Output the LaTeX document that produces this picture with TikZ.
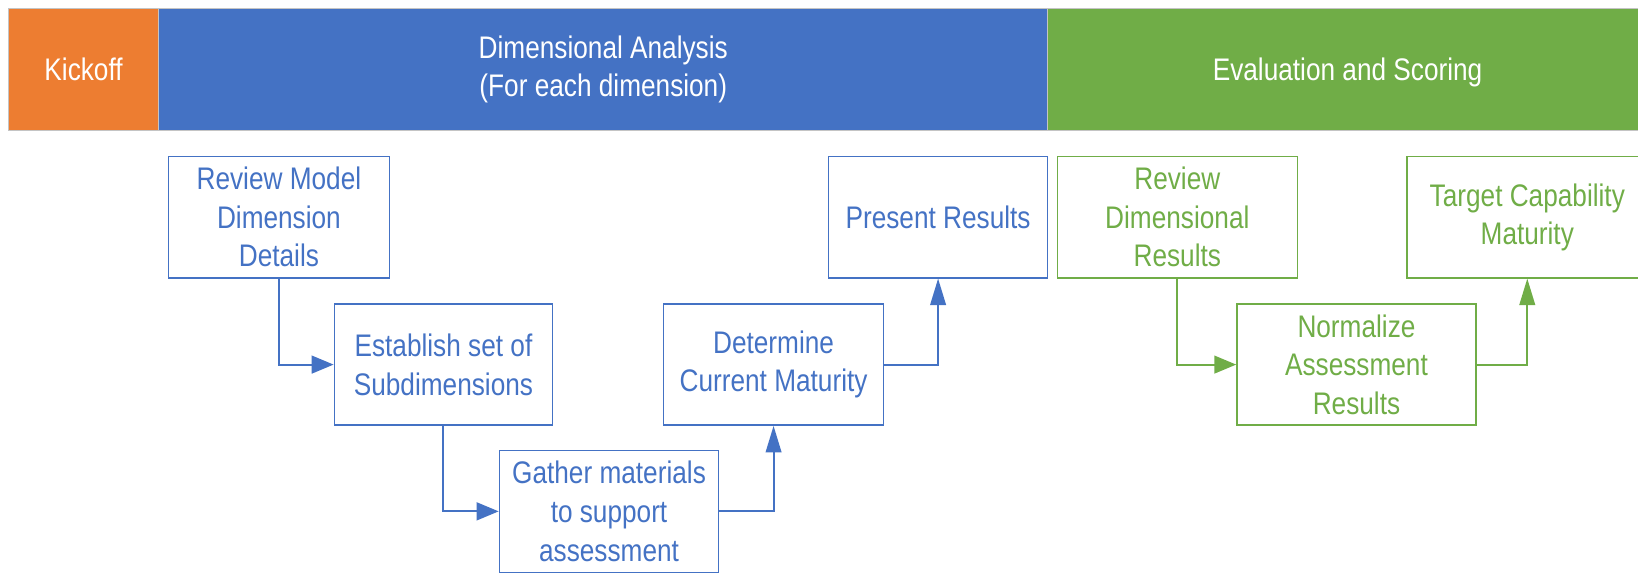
\documentclass[tikz,border=0pt]{standalone}
\usepackage{fontspec}
\setmainfont{Liberation Sans}[FakeStretch=0.84]
\usetikzlibrary{arrows.meta,positioning}
\definecolor{kickorange}{HTML}{ED7D31}
\definecolor{dimblue}{HTML}{4472C4}
\definecolor{evalgreen}{HTML}{70AD47}
\definecolor{hdrgray}{HTML}{C4C4C4}
\tikzstyle{phase} = [rectangle, draw=hdrgray, line width=0.5pt, text=white, align=center, inner sep=0pt, minimum height=2.34cm]
\tikzstyle{taskbox} = [rectangle, line width=0.75pt, align=center, inner sep=0pt, minimum height=2.32cm]
\tikzstyle{bluebox} = [taskbox, draw=dimblue, text=dimblue]
\tikzstyle{greenbox} = [taskbox, draw=evalgreen, text=evalgreen]
\tikzstyle{arrow} = [line width=1.1pt, -{Triangle[length=0.42cm,width=0.34cm]}]
\tikzstyle{uparrow} = [line width=1.1pt, -{Triangle[length=0.51cm,width=0.30cm]}]

\begin{document}
\begin{tikzpicture}[x=0.02cm, y=-0.02cm, font=\fontsize{17}{21}\selectfont]
	\useasboundingbox (0,0) rectangle (1568,549);
	\clip (0,0) rectangle (1568,549);

	\node [phase, fill=kickorange, minimum width=2.88cm] (kick) at (80,66.5) {Kickoff};
	\node [phase, fill=dimblue, minimum width=17.02cm] (dima) at (577.5,66.5) {Dimensional Analysis\\(For each dimension)};
	\node [phase, fill=evalgreen, minimum width=11.48cm, text depth=0pt] (evsc) at (1290,66.5) {Evaluation and Scoring};

	\node [bluebox, minimum width=4.24cm] (rmd) at (267,208) {Review Model\\Dimension\\Details};
	\node [bluebox, minimum width=4.18cm] (esd) at (424.5,349) {Establish set of\\Subdimensions};
	\node [bluebox, minimum width=4.2cm, minimum height=2.34cm] (gma) at (583,489.5) {Gather materials\\to support\\assessment};
	\node [bluebox, minimum width=4.22cm] (dcm) at (740.5,349) {Determine\\Current Maturity};
	\node [bluebox, minimum width=4.2cm] (prs) at (898,208) {Present Results};

	\node [greenbox, minimum width=4.6cm] (rdr) at (1127,208) {Review\\Dimensional\\Results};
	\node [greenbox, minimum width=4.58cm] (nar) at (1298.5,349) {Normalize\\Assessment\\Results};
	\node [greenbox, minimum width=4.6cm] (tcm) at (1462,208) {Target Capability\\Maturity};

	\draw [arrow, dimblue] (rmd.south) |- (esd.west);
	\draw [arrow, dimblue] (esd.south) |- (gma.west);
	\draw [uparrow, dimblue] (gma.east) -| (dcm.south);
	\draw [uparrow, dimblue] (dcm.east) -| (prs.south);
	\draw [arrow, evalgreen] (rdr.south) |- (nar.west);
	\draw [uparrow, evalgreen] (nar.east) -| (tcm.south);
\end{tikzpicture}
\end{document}
